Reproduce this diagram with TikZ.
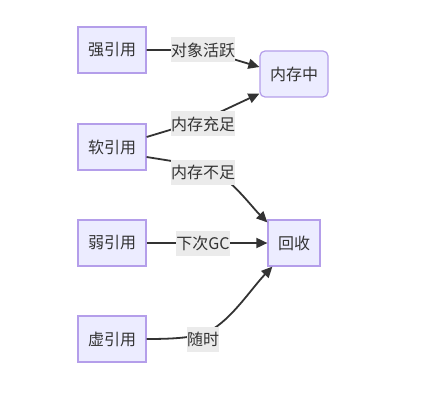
\documentclass[tikz,border=0pt]{standalone}
\usepackage{fontspec}
\setmainfont{Noto Sans CJK SC}
\usetikzlibrary{arrows.meta,calc}
\definecolor{nodefill}{HTML}{ECECFF}
\definecolor{nodestroke}{HTML}{B49EEA}
\definecolor{ink}{HTML}{333333}
\definecolor{lblbg}{HTML}{EBEBEB}
\begin{document}
\begin{tikzpicture}[x=1pt,y=-1pt,
  box/.style={draw=nodestroke,fill=nodefill,line width=1.2pt,inner xsep=10pt,inner ysep=0pt,minimum height=46pt,text=ink,font=\fontsize{16}{18}\selectfont},
  lbl/.style={fill=lblbg,inner xsep=0pt,inner ysep=0pt,minimum height=25pt,text=ink,font=\fontsize{16}{18}\selectfont},
  conn/.style={draw=ink,line width=1.8pt,-{Triangle[length=11pt,width=10pt]}}]
\useasboundingbox (0,0) rectangle (446,414);
\node[box] (strong) at (112,50) {强引用};
\node[box] (soft) at (112,147) {软引用};
\node[box] (weak) at (112,243) {弱引用};
\node[box] (phantom) at (112,339) {虚引用};
\node[box,rounded corners=5pt] (mem) at (294,74) {内存中};
\node[box] (recl) at (294,243) {回收};
\coordinate (c1) at (203,50);
\coordinate (c2) at (203,120);
\coordinate (c3) at (203,166);
\coordinate (c5) at (203,334);
\draw[conn] (strong.east) -- (c1) -- ($(mem.west)+(0,-7)$);
\draw[conn] ($(soft.east)+(0,-10)$) -- (c2) -- ($(mem.south west)+(0,-4)$);
\draw[conn] ($(soft.east)+(0,10)$) -- (c3) .. controls (228,174) and (250,205) .. ($(recl.north west)+(0,3)$);
\draw[conn] (weak.east) -- (recl.west);
\draw[conn] (phantom.east) .. controls (180,339) and (190,337) .. (c5) .. controls (228,325) and (250,290) .. ($(recl.south west)+(5,0)$);
\node[lbl] (l1) at (203,50) {对象活跃};
\node[lbl] (l2) at (203,124) {内存充足};
\node[lbl] (l3) at (203,172) {内存不足};
\node[lbl] (l4) at (203,243) {下次GC};
\node[lbl] (l5) at (203,339) {随时};
\end{tikzpicture}
\end{document}
